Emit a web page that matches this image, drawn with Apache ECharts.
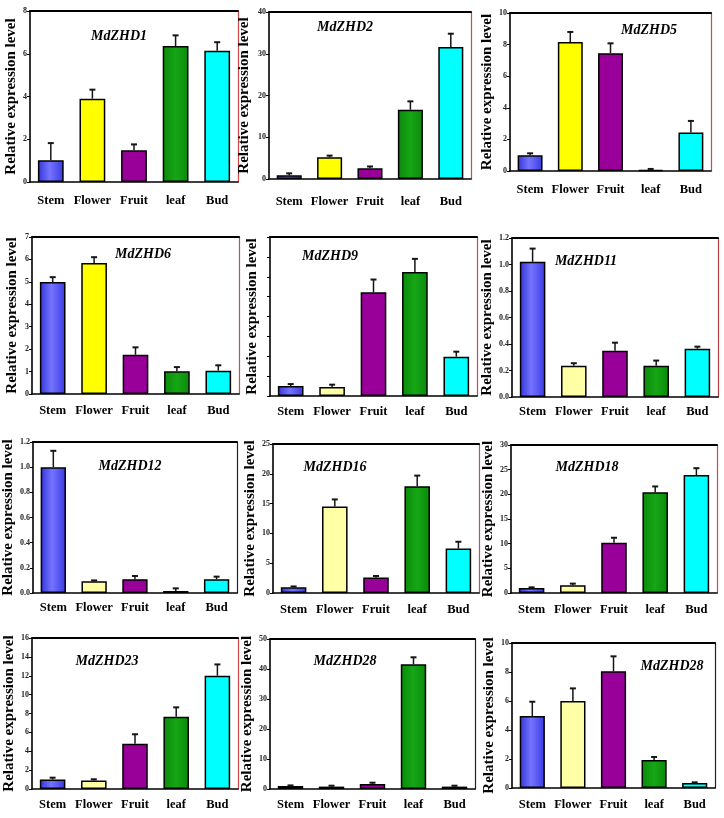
<!DOCTYPE html>
<html>
<head>
<meta charset="utf-8">
<script src="https://cdn.jsdelivr.net/npm/echarts@6/dist/echarts.min.js"></script>
<style>
html,body{margin:0;padding:0;background:#fff;}
#chart{width:724px;height:818px;}
</style>
</head>
<body>
<div id="chart"></div>
<script>
// ---------- DATA ----------
const categories = ['Stem', 'Flower', 'Fruit', 'leaf', 'Bud'];
const geneNames = ['MdZHD1', 'MdZHD2', 'MdZHD5', 'MdZHD6', 'MdZHD9', 'MdZHD11',
                   'MdZHD12', 'MdZHD16', 'MdZHD18', 'MdZHD23', 'MdZHD28', 'MdZHD28'];
const yAxisTitle = 'Relative expression level';

const zhd1 = [1.02, 3.9, 1.48, 6.36, 6.14];
const zhd1Err = [0.8, 0.42, 0.28, 0.5, 0.4];
const zhd2 = [0.9, 5.2, 2.55, 16.6, 31.6];
const zhd2Err = [0.45, 0.4, 0.45, 2.0, 3.2];
const zhd5 = [0.99, 8.16, 7.46, 0.06, 2.43];
const zhd5Err = [0.13, 0.64, 0.62, 0.07, 0.74];
const zhd6 = [4.99, 5.84, 1.75, 1.01, 1.04];
const zhd6Err = [0.22, 0.26, 0.33, 0.19, 0.24];
const zhd9 = [0.5, 0.45, 5.22, 6.24, 1.98];
const zhd9Err = [0.1, 0.12, 0.64, 0.66, 0.25];
const zhd11 = [1.02, 0.235, 0.35, 0.235, 0.364];
const zhd11Err = [0.1, 0.02, 0.06, 0.04, 0.016];
const zhd12 = [1.0, 0.093, 0.11, 0.016, 0.11];
const zhd12Err = [0.13, 0.007, 0.025, 0.021, 0.02];
const zhd16 = [0.95, 14.5, 2.6, 17.9, 7.45];
const zhd16Err = [0.15, 1.2, 0.25, 1.8, 1.15];
const zhd18 = [1.0, 1.56, 10.2, 20.4, 23.9];
const zhd18Err = [0.15, 0.34, 1.0, 1.2, 1.4];
const zhd23 = [1.0, 0.9, 4.8, 7.65, 12.0];
const zhd23Err = [0.2, 0.13, 1.0, 1.0, 1.2];
const zhd28a = [1.0, 0.8, 1.7, 41.6, 0.8];
const zhd28aErr = [0.2, 0.3, 0.4, 2.3, 0.3];
const zhd28b = [4.97, 6.0, 8.05, 1.93, 0.34];
const zhd28bErr = [0.98, 0.87, 1.03, 0.21, 0.05];

const yMaxes = [8, 40, 10, 7, 8, 1.2, 1.2, 25, 30, 16, 50, 10];
const yIntervals = [2, 10, 2, 1, 1, 0.2, 0.2, 5, 5, 2, 10, 2];
const showYTickLabels = [true, true, true, true, false, true, true, true, true, true, true, true];

const allValues = [zhd1, zhd2, zhd5, zhd6, zhd9, zhd11, zhd12, zhd16, zhd18, zhd23, zhd28a, zhd28b];
const allErrors = [zhd1Err, zhd2Err, zhd5Err, zhd6Err, zhd9Err, zhd11Err, zhd12Err, zhd16Err, zhd18Err, zhd23Err, zhd28aErr, zhd28bErr];

// ---------- LAYOUT / STYLE ----------
const boxes = [
  [30, 11, 238, 182], [269, 12, 471, 179], [510, 13, 711, 171],
  [32, 237, 239, 394], [270, 237, 477, 396], [512, 238, 718, 397],
  [31, 442, 237, 593], [273, 444, 479, 593], [511, 445, 717, 593],
  [32, 638, 238, 789], [270, 639, 475, 789], [512, 643, 715, 788]
];
const nameGaps = [11, 17, 11, 12, 10, 12, 12, 11, 9, 12, 12, 13];
const labelMargins = [12, 16, 12, 10, 9, 8, 8, 10, 10, 9, 9, 10];
const titlePos = [[119, 37], [345, 28], [649, 31], [143, 255], [330, 257], [586, 262],
                  [130, 467], [335, 468], [587, 468], [107, 662], [345, 662], [672, 667]];
const rightBorder = ['#d04848', '#d04848', '#d04848', '#d04848', '#d04848', '#b04040',
                     '#222', '#d04848', '#d04848', '#d04848', '#222', '#222'];
const paleFlower = [false, false, false, false, true, true, true, true, true, true, true, true];

const stemColor = {
  type: 'linear', x: 0, y: 0, x2: 1, y2: 0,
  colorStops: [{offset: 0, color: '#3434d8'}, {offset: 0.45, color: '#7474ff'}, {offset: 1, color: '#3a3ae2'}]
};
const leafColor = {
  type: 'linear', x: 0, y: 0, x2: 1, y2: 0,
  colorStops: [{offset: 0, color: '#0a8a0a'}, {offset: 0.5, color: '#16a616'}, {offset: 1, color: '#0a8a0a'}]
};
function barColors(i) {
  return [stemColor, paleFlower[i] ? '#ffffa6' : '#ffff00', '#990099', leafColor, '#00ffff'];
}

const serif = 'Liberation Serif';

const option = {
  backgroundColor: '#fff',
  animation: false,
  title: [], grid: [], xAxis: [], yAxis: [], series: []
};

function errRender(params, api) {
  const x = api.value(0), v = api.value(1), e = api.value(2);
  const p0 = api.coord([x, v]);
  const p1 = api.coord([x, v + e]);
  return {
    type: 'group',
    children: [
      {type: 'line', shape: {x1: p0[0], y1: p0[1], x2: p1[0], y2: p1[1]}, style: {stroke: '#151515', lineWidth: 1.5}},
      {type: 'line', shape: {x1: p1[0] - 3, y1: p1[1], x2: p1[0] + 3, y2: p1[1]}, style: {stroke: '#151515', lineWidth: 2}}
    ]
  };
}

for (let i = 0; i < 12; i++) {
  const [L, T, R, B] = boxes[i];
  const cols = barColors(i);
  option.grid.push({left: L, top: T, width: R - L, height: B - T, containLabel: false});
  option.title.push({
    text: geneNames[i], left: titlePos[i][0], top: titlePos[i][1] - 8, textAlign: 'center', padding: 0,
    textStyle: {fontFamily: serif, fontStyle: 'italic', fontWeight: 'bold', fontSize: 14, color: '#000'}
  });
  option.xAxis.push({
    type: 'category', gridIndex: i, data: categories,
    axisLine: {onZero: false, lineStyle: {color: '#000', width: 1.6}},
    axisTick: {alignWithLabel: true, length: 3, lineStyle: {color: '#000'}},
    axisLabel: {interval: 0, margin: labelMargins[i], fontFamily: serif, fontWeight: 'bold', fontSize: 12.5, color: '#000'}
  });
  option.xAxis.push({
    type: 'category', gridIndex: i, position: 'top', data: categories,
    axisLine: {onZero: false, lineStyle: {color: '#000', width: 2}},
    axisTick: {show: false}, axisLabel: {show: false}
  });
  const itv = yIntervals[i];
  option.yAxis.push({
    type: 'value', gridIndex: i, min: 0, max: yMaxes[i], interval: itv,
    name: yAxisTitle, nameLocation: 'middle', nameGap: nameGaps[i],
    nameTextStyle: {fontFamily: serif, fontWeight: 'bold', fontSize: 15, color: '#000'},
    axisLine: {show: true, onZero: false, lineStyle: {color: '#000', width: 1.6}},
    axisTick: {show: true, length: 3, lineStyle: {color: '#000'}},
    axisLabel: {show: showYTickLabels[i], margin: 3, fontFamily: serif, fontWeight: 'bold', fontSize: 8, color: '#222',
      formatter: v => itv < 1 ? v.toFixed(1) : String(v)},
    splitLine: {show: false}
  });
  option.yAxis.push({
    type: 'value', gridIndex: i, position: 'right', min: 0, max: yMaxes[i],
    axisLine: {show: true, onZero: false, lineStyle: {color: rightBorder[i], width: 1.2}},
    axisTick: {show: false}, axisLabel: {show: false}, splitLine: {show: false}
  });
  option.series.push({
    type: 'bar', xAxisIndex: 2 * i, yAxisIndex: 2 * i, barWidth: '62%',
    itemStyle: {borderColor: '#000', borderWidth: 1.5},
    data: allValues[i].map((v, j) => ({value: v, itemStyle: {color: cols[j]}}))
  });
  option.series.push({
    type: 'custom', xAxisIndex: 2 * i, yAxisIndex: 2 * i, z: 3,
    renderItem: errRender, encode: {x: 0, y: 1},
    data: allValues[i].map((v, j) => [j, v, allErrors[i][j]])
  });
}

const chart = echarts.init(document.getElementById('chart'), null, {renderer: 'canvas'});
chart.setOption(option);
</script>
</body>
</html>
